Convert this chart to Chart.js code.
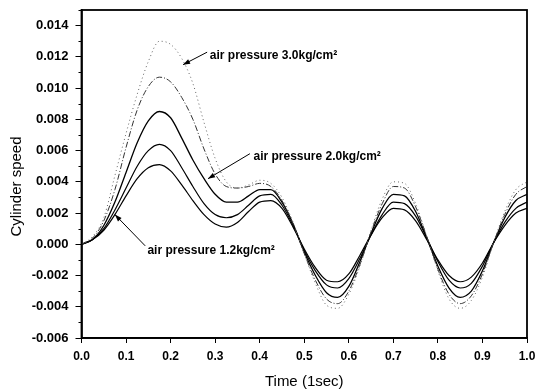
<!DOCTYPE html>
<html>
<head>
<meta charset="utf-8">
<script src="https://cdn.jsdelivr.net/npm/chart.js@4/dist/chart.umd.min.js"></script>
<style>
  html, body { margin: 0; padding: 0; background: #fff; }
  #wrap { width: 538px; height: 392px; }
</style>
</head>
<body>
<div id="wrap"><canvas id="c" width="538" height="392"></canvas></div>
<script>
// ---- data ----
const timeValues = [0, 0.025, 0.05, 0.075, 0.1, 0.125, 0.15, 0.175, 0.2, 0.225, 0.25, 0.275, 0.3, 0.325, 0.35, 0.375, 0.4, 0.425, 0.45, 0.475, 0.5, 0.525, 0.55, 0.575, 0.6, 0.625, 0.65, 0.675, 0.7, 0.725, 0.75, 0.775, 0.8, 0.825, 0.85, 0.875, 0.9, 0.925, 0.95, 0.975, 1.0];

const speedP30 = [0, 0.0005, 0.0017, 0.0044, 0.0071, 0.0096, 0.0117, 0.0130, 0.0128, 0.0119, 0.0103, 0.0078, 0.0055, 0.0040, 0.0036, 0.0038, 0.0041, 0.0039, 0.0030, 0.0014, -0.0006, -0.0025, -0.0039, -0.0041, -0.0032, -0.0014, 0.0009, 0.0029, 0.0040, 0.0039, 0.0026, 0.0005, -0.0017, -0.0035, -0.0041, -0.0036, -0.0021, 0.0001, 0.0021, 0.0035, 0.0040];
const speedP25 = [0, 0.0004, 0.0015, 0.0035, 0.0062, 0.0086, 0.0101, 0.0107, 0.0104, 0.0094, 0.0080, 0.0061, 0.0045, 0.0037, 0.0036, 0.0037, 0.0039, 0.0037, 0.0028, 0.0013, -0.0006, -0.0023, -0.0035, -0.0038, -0.0030, -0.0013, 0.0008, 0.0026, 0.0037, 0.0036, 0.0024, 0.0005, -0.0016, -0.0032, -0.0038, -0.0033, -0.0019, 0.0001, 0.0019, 0.0032, 0.0037];
const speedP20 = [0, 0.0003, 0.0012, 0.0027, 0.0046, 0.0065, 0.0079, 0.0085, 0.0081, 0.0068, 0.0054, 0.0042, 0.0032, 0.0027, 0.0027, 0.0031, 0.0035, 0.0035, 0.0027, 0.0013, -0.0005, -0.0020, -0.0031, -0.0034, -0.0027, -0.0011, 0.0007, 0.0023, 0.0032, 0.0031, 0.0021, 0.0004, -0.0014, -0.0028, -0.0034, -0.0030, -0.0017, 0.0001, 0.0017, 0.0028, 0.0032];
const speedP16 = [0, 0.0003, 0.0010, 0.0022, 0.0036, 0.0050, 0.0060, 0.0064, 0.0060, 0.0049, 0.0037, 0.0026, 0.0019, 0.0017, 0.0019, 0.0025, 0.0031, 0.0032, 0.0025, 0.0012, -0.0004, -0.0017, -0.0026, -0.0028, -0.0022, -0.0009, 0.0006, 0.0019, 0.0027, 0.0026, 0.0018, 0.0004, -0.0011, -0.0023, -0.0028, -0.0025, -0.0014, 0.0001, 0.0014, 0.0023, 0.0027];
const speedP12 = [0, 0.0003, 0.0009, 0.0019, 0.0031, 0.0042, 0.0049, 0.0051, 0.0047, 0.0038, 0.0028, 0.0019, 0.0013, 0.0011, 0.0014, 0.0021, 0.0027, 0.0028, 0.0023, 0.0011, -0.0003, -0.0015, -0.0023, -0.0024, -0.0019, -0.0007, 0.0006, 0.0017, 0.0023, 0.0022, 0.0015, 0.0003, -0.0010, -0.0020, -0.0024, -0.0021, -0.0012, 0.0001, 0.0012, 0.0020, 0.0023];

const xTickValues = [0, 0.1, 0.2, 0.3, 0.4, 0.5, 0.6, 0.7, 0.8, 0.9, 1.0];
const yTickValues = [-0.006, -0.004, -0.002, 0, 0.002, 0.004, 0.006, 0.008, 0.010, 0.012, 0.014];
const yMinorTickValues = [-0.005, -0.003, -0.001, 0.001, 0.003, 0.005, 0.007, 0.009, 0.011, 0.013, 0.015];

// annotations: label, text anchor (t, v), arrow tail (t, v), arrow tip (t, v)
const annoLabels = ['air pressure 3.0kg/cm²', 'air pressure 2.0kg/cm²', 'air pressure 1.2kg/cm²'];
const annoText = [[0.288, 0.0121], [0.386, 0.0056], [0.148, -0.0004]];
const annoTail = [[0.282, 0.0123], [0.378, 0.0058], [0.143, -0.0001]];
const annoTip  = [[0.228, 0.0115], [0.284, 0.0042], [0.075, 0.0019]];

// ---- chart ----
const pts = arr => arr.map((v, i) => ({ x: timeValues[i], y: v }));

const frameAndExtras = {
  id: 'frameAndExtras',
  afterDatasetsDraw(chart) {
    const { ctx, chartArea: a, scales: { x, y } } = chart;
    ctx.save();
    // frame
    ctx.strokeStyle = '#000';
    ctx.lineWidth = 1.8;
    ctx.strokeRect(a.left, a.top, a.right - a.left, a.bottom - a.top);
    // minor y ticks
    ctx.lineWidth = 1;
    yMinorTickValues.forEach(v => {
      const py = Math.round(y.getPixelForValue(v)) + 0.5;
      ctx.beginPath(); ctx.moveTo(a.left - 3, py); ctx.lineTo(a.left, py); ctx.stroke();
    });
    // annotations
    ctx.fillStyle = '#000';
    ctx.font = 'bold 12px "Liberation Sans", Arial, sans-serif';
    ctx.textBaseline = 'middle';
    ctx.textAlign = 'left';
    annoLabels.forEach((lab, i) => {
      const tx = x.getPixelForValue(annoText[i][0]);
      const ty = y.getPixelForValue(annoText[i][1]);
      ctx.fillText(lab, tx, ty);
      const x0 = x.getPixelForValue(annoTail[i][0]);
      const y0 = y.getPixelForValue(annoTail[i][1]);
      const x1 = x.getPixelForValue(annoTip[i][0]);
      const y1 = y.getPixelForValue(annoTip[i][1]);
      ctx.lineWidth = 1;
      ctx.beginPath(); ctx.moveTo(x0, y0); ctx.lineTo(x1, y1); ctx.stroke();
      const ang = Math.atan2(y1 - y0, x1 - x0);
      const L = 7, W = 2.5;
      ctx.beginPath();
      ctx.moveTo(x1, y1);
      ctx.lineTo(x1 - L * Math.cos(ang) + W * Math.sin(ang), y1 - L * Math.sin(ang) - W * Math.cos(ang));
      ctx.lineTo(x1 - L * Math.cos(ang) - W * Math.sin(ang), y1 - L * Math.sin(ang) + W * Math.cos(ang));
      ctx.closePath();
      ctx.fill();
    });
    ctx.restore();
  }
};

const xTickFont = { family: '"Liberation Sans", Arial, sans-serif', size: 12, weight: 'bold' };
const yTickFont = { family: '"Liberation Sans", Arial, sans-serif', size: 13, weight: 'bold' };
const zeroPad = s => { s.paddingTop = 0; s.paddingBottom = 0; s.paddingLeft = 0; s.paddingRight = 0; };

new Chart(document.getElementById('c'), {
  type: 'line',
  data: {
    datasets: [
      { label: '3.0', data: pts(speedP30), borderColor: '#666', borderWidth: 1, borderDash: [1, 3] },
      { label: '2.5', data: pts(speedP25), borderColor: '#333', borderWidth: 1, borderDash: [6, 2, 1, 2] },
      { label: '2.0', data: pts(speedP20), borderColor: '#000', borderWidth: 1.3 },
      { label: '1.6', data: pts(speedP16), borderColor: '#000', borderWidth: 1.2 },
      { label: '1.2', data: pts(speedP12), borderColor: '#000', borderWidth: 1.2 }
    ]
  },
  options: {
    responsive: false,
    animation: false,
    devicePixelRatio: 1,
    layout: { padding: { top: 10, right: 11, left: 0, bottom: 0 } },
    elements: { point: { radius: 0 }, line: { tension: 0, cubicInterpolationMode: 'monotone' } },
    plugins: { legend: { display: false }, tooltip: { enabled: false } },
    scales: {
      x: {
        type: 'linear', min: 0, max: 1,
        afterBuildTicks: s => { s.ticks = xTickValues.map(v => ({ value: v })); },
        afterFit: s => { s.height = 54; zeroPad(s); },
        ticks: { font: xTickFont, color: '#000', padding: 6, maxRotation: 0,
                 callback: v => v.toFixed(1) },
        grid: { display: true, drawOnChartArea: false, drawTicks: true, tickLength: 5, color: '#000', lineWidth: 1 },
        border: { display: true, color: '#000', width: 1.8 },
        title: { display: true, text: 'Time (1sec)', color: '#000',
                 font: { family: '"Liberation Sans", Arial, sans-serif', size: 15 },
                 padding: { top: 0, bottom: 1 } }
      },
      y: {
        type: 'linear', min: -0.006, max: 0.015,
        afterBuildTicks: s => { s.ticks = yTickValues.map(v => ({ value: v })); },
        afterFit: s => { s.width = 81.5; zeroPad(s); },
        ticks: { font: yTickFont, color: '#000', padding: 7,
                 callback: v => v.toFixed(3) },
        grid: { display: true, drawOnChartArea: false, drawTicks: true, tickLength: 6, color: '#000', lineWidth: 1 },
        border: { display: true, color: '#000', width: 1.8 },
        title: { display: true, text: 'Cylinder speed      ', color: '#000',
                 font: { family: '"Liberation Sans", Arial, sans-serif', size: 15 },
                 padding: { top: 8, bottom: 0 } }
      }
    }
  },
  plugins: [frameAndExtras]
});
</script>
</body>
</html>
